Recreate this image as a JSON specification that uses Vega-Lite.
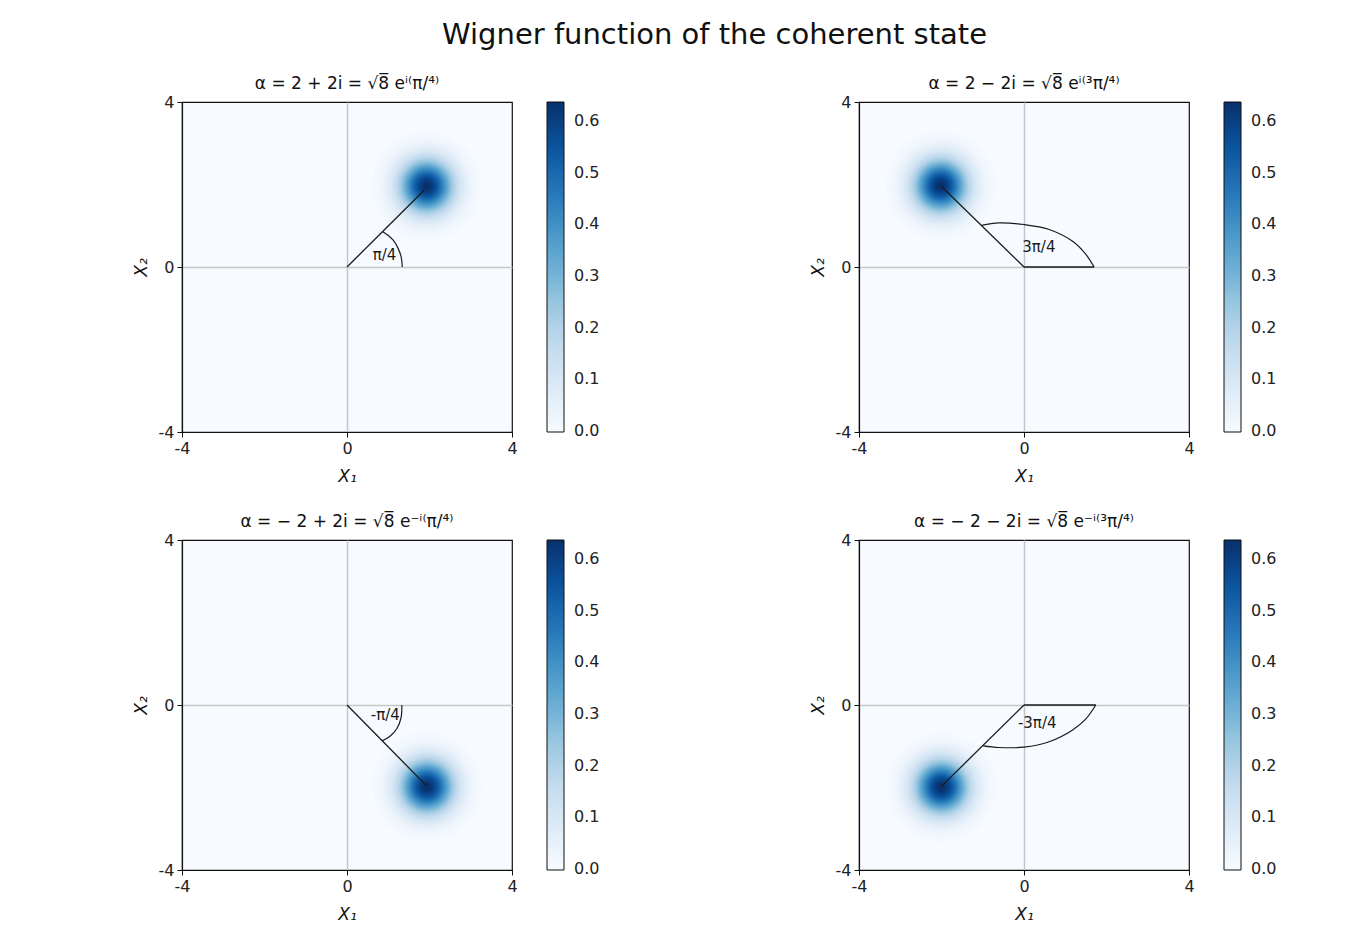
{
  "$schema": "https://vega.github.io/schema/vega-lite/v6.json",
  "background": "white",
  "padding": {"left": 131, "top": 21, "right": 5, "bottom": 5},
  "title": {"text": "Wigner function of the coherent state", "fontSize": 29, "fontWeight": "normal", "anchor": "middle", "offset": 24, "dx": 10, "color": "#111"},
  "datasets": {
    "blobs": [
      {"p":"A","x":1.93,"y":1.96,"r":1.5,"w":0.0082},{"p":"A","x":1.93,"y":1.96,"r":1.45,"w":0.011},{"p":"A","x":1.93,"y":1.96,"r":1.4,"w":0.0145},{"p":"A","x":1.93,"y":1.96,"r":1.35,"w":0.019},{"p":"A","x":1.93,"y":1.96,"r":1.3,"w":0.0247},{"p":"A","x":1.93,"y":1.96,"r":1.25,"w":0.0317},{"p":"A","x":1.93,"y":1.96,"r":1.2,"w":0.0403},{"p":"A","x":1.93,"y":1.96,"r":1.15,"w":0.0507},{"p":"A","x":1.93,"y":1.96,"r":1.1,"w":0.0632},{"p":"A","x":1.93,"y":1.96,"r":1.05,"w":0.0779},{"p":"A","x":1.93,"y":1.96,"r":1.0,"w":0.0952},{"p":"A","x":1.93,"y":1.96,"r":0.95,"w":0.1151},{"p":"A","x":1.93,"y":1.96,"r":0.9,"w":0.1378},{"p":"A","x":1.93,"y":1.96,"r":0.85,"w":0.1633},{"p":"A","x":1.93,"y":1.96,"r":0.8,"w":0.1917},{"p":"A","x":1.93,"y":1.96,"r":0.75,"w":0.2227},{"p":"A","x":1.93,"y":1.96,"r":0.7,"w":0.2561},{"p":"A","x":1.93,"y":1.96,"r":0.65,"w":0.2917},{"p":"A","x":1.93,"y":1.96,"r":0.6,"w":0.3289},{"p":"A","x":1.93,"y":1.96,"r":0.55,"w":0.3672},{"p":"A","x":1.93,"y":1.96,"r":0.5,"w":0.4058},{"p":"A","x":1.93,"y":1.96,"r":0.45,"w":0.444},{"p":"A","x":1.93,"y":1.96,"r":0.4,"w":0.4809},{"p":"A","x":1.93,"y":1.96,"r":0.35,"w":0.5158},{"p":"A","x":1.93,"y":1.96,"r":0.3,"w":0.5477},{"p":"A","x":1.93,"y":1.96,"r":0.25,"w":0.5758},{"p":"A","x":1.93,"y":1.96,"r":0.2,"w":0.5993},{"p":"A","x":1.93,"y":1.96,"r":0.15,"w":0.6174},{"p":"A","x":1.93,"y":1.96,"r":0.1,"w":0.6301},{"p":"A","x":1.93,"y":1.96,"r":0.05,"w":0.6362},
      {"p":"B","x":-2.02,"y":1.97,"r":1.5,"w":0.0082},{"p":"B","x":-2.02,"y":1.97,"r":1.45,"w":0.011},{"p":"B","x":-2.02,"y":1.97,"r":1.4,"w":0.0145},{"p":"B","x":-2.02,"y":1.97,"r":1.35,"w":0.019},{"p":"B","x":-2.02,"y":1.97,"r":1.3,"w":0.0247},{"p":"B","x":-2.02,"y":1.97,"r":1.25,"w":0.0317},{"p":"B","x":-2.02,"y":1.97,"r":1.2,"w":0.0403},{"p":"B","x":-2.02,"y":1.97,"r":1.15,"w":0.0507},{"p":"B","x":-2.02,"y":1.97,"r":1.1,"w":0.0632},{"p":"B","x":-2.02,"y":1.97,"r":1.05,"w":0.0779},{"p":"B","x":-2.02,"y":1.97,"r":1.0,"w":0.0952},{"p":"B","x":-2.02,"y":1.97,"r":0.95,"w":0.1151},{"p":"B","x":-2.02,"y":1.97,"r":0.9,"w":0.1378},{"p":"B","x":-2.02,"y":1.97,"r":0.85,"w":0.1633},{"p":"B","x":-2.02,"y":1.97,"r":0.8,"w":0.1917},{"p":"B","x":-2.02,"y":1.97,"r":0.75,"w":0.2227},{"p":"B","x":-2.02,"y":1.97,"r":0.7,"w":0.2561},{"p":"B","x":-2.02,"y":1.97,"r":0.65,"w":0.2917},{"p":"B","x":-2.02,"y":1.97,"r":0.6,"w":0.3289},{"p":"B","x":-2.02,"y":1.97,"r":0.55,"w":0.3672},{"p":"B","x":-2.02,"y":1.97,"r":0.5,"w":0.4058},{"p":"B","x":-2.02,"y":1.97,"r":0.45,"w":0.444},{"p":"B","x":-2.02,"y":1.97,"r":0.4,"w":0.4809},{"p":"B","x":-2.02,"y":1.97,"r":0.35,"w":0.5158},{"p":"B","x":-2.02,"y":1.97,"r":0.3,"w":0.5477},{"p":"B","x":-2.02,"y":1.97,"r":0.25,"w":0.5758},{"p":"B","x":-2.02,"y":1.97,"r":0.2,"w":0.5993},{"p":"B","x":-2.02,"y":1.97,"r":0.15,"w":0.6174},{"p":"B","x":-2.02,"y":1.97,"r":0.1,"w":0.6301},{"p":"B","x":-2.02,"y":1.97,"r":0.05,"w":0.6362},
      {"p":"C","x":1.94,"y":-1.98,"r":1.5,"w":0.0082},{"p":"C","x":1.94,"y":-1.98,"r":1.45,"w":0.011},{"p":"C","x":1.94,"y":-1.98,"r":1.4,"w":0.0145},{"p":"C","x":1.94,"y":-1.98,"r":1.35,"w":0.019},{"p":"C","x":1.94,"y":-1.98,"r":1.3,"w":0.0247},{"p":"C","x":1.94,"y":-1.98,"r":1.25,"w":0.0317},{"p":"C","x":1.94,"y":-1.98,"r":1.2,"w":0.0403},{"p":"C","x":1.94,"y":-1.98,"r":1.15,"w":0.0507},{"p":"C","x":1.94,"y":-1.98,"r":1.1,"w":0.0632},{"p":"C","x":1.94,"y":-1.98,"r":1.05,"w":0.0779},{"p":"C","x":1.94,"y":-1.98,"r":1.0,"w":0.0952},{"p":"C","x":1.94,"y":-1.98,"r":0.95,"w":0.1151},{"p":"C","x":1.94,"y":-1.98,"r":0.9,"w":0.1378},{"p":"C","x":1.94,"y":-1.98,"r":0.85,"w":0.1633},{"p":"C","x":1.94,"y":-1.98,"r":0.8,"w":0.1917},{"p":"C","x":1.94,"y":-1.98,"r":0.75,"w":0.2227},{"p":"C","x":1.94,"y":-1.98,"r":0.7,"w":0.2561},{"p":"C","x":1.94,"y":-1.98,"r":0.65,"w":0.2917},{"p":"C","x":1.94,"y":-1.98,"r":0.6,"w":0.3289},{"p":"C","x":1.94,"y":-1.98,"r":0.55,"w":0.3672},{"p":"C","x":1.94,"y":-1.98,"r":0.5,"w":0.4058},{"p":"C","x":1.94,"y":-1.98,"r":0.45,"w":0.444},{"p":"C","x":1.94,"y":-1.98,"r":0.4,"w":0.4809},{"p":"C","x":1.94,"y":-1.98,"r":0.35,"w":0.5158},{"p":"C","x":1.94,"y":-1.98,"r":0.3,"w":0.5477},{"p":"C","x":1.94,"y":-1.98,"r":0.25,"w":0.5758},{"p":"C","x":1.94,"y":-1.98,"r":0.2,"w":0.5993},{"p":"C","x":1.94,"y":-1.98,"r":0.15,"w":0.6174},{"p":"C","x":1.94,"y":-1.98,"r":0.1,"w":0.6301},{"p":"C","x":1.94,"y":-1.98,"r":0.05,"w":0.6362},
      {"p":"D","x":-2.0,"y":-1.99,"r":1.5,"w":0.0082},{"p":"D","x":-2.0,"y":-1.99,"r":1.45,"w":0.011},{"p":"D","x":-2.0,"y":-1.99,"r":1.4,"w":0.0145},{"p":"D","x":-2.0,"y":-1.99,"r":1.35,"w":0.019},{"p":"D","x":-2.0,"y":-1.99,"r":1.3,"w":0.0247},{"p":"D","x":-2.0,"y":-1.99,"r":1.25,"w":0.0317},{"p":"D","x":-2.0,"y":-1.99,"r":1.2,"w":0.0403},{"p":"D","x":-2.0,"y":-1.99,"r":1.15,"w":0.0507},{"p":"D","x":-2.0,"y":-1.99,"r":1.1,"w":0.0632},{"p":"D","x":-2.0,"y":-1.99,"r":1.05,"w":0.0779},{"p":"D","x":-2.0,"y":-1.99,"r":1.0,"w":0.0952},{"p":"D","x":-2.0,"y":-1.99,"r":0.95,"w":0.1151},{"p":"D","x":-2.0,"y":-1.99,"r":0.9,"w":0.1378},{"p":"D","x":-2.0,"y":-1.99,"r":0.85,"w":0.1633},{"p":"D","x":-2.0,"y":-1.99,"r":0.8,"w":0.1917},{"p":"D","x":-2.0,"y":-1.99,"r":0.75,"w":0.2227},{"p":"D","x":-2.0,"y":-1.99,"r":0.7,"w":0.2561},{"p":"D","x":-2.0,"y":-1.99,"r":0.65,"w":0.2917},{"p":"D","x":-2.0,"y":-1.99,"r":0.6,"w":0.3289},{"p":"D","x":-2.0,"y":-1.99,"r":0.55,"w":0.3672},{"p":"D","x":-2.0,"y":-1.99,"r":0.5,"w":0.4058},{"p":"D","x":-2.0,"y":-1.99,"r":0.45,"w":0.444},{"p":"D","x":-2.0,"y":-1.99,"r":0.4,"w":0.4809},{"p":"D","x":-2.0,"y":-1.99,"r":0.35,"w":0.5158},{"p":"D","x":-2.0,"y":-1.99,"r":0.3,"w":0.5477},{"p":"D","x":-2.0,"y":-1.99,"r":0.25,"w":0.5758},{"p":"D","x":-2.0,"y":-1.99,"r":0.2,"w":0.5993},{"p":"D","x":-2.0,"y":-1.99,"r":0.15,"w":0.6174},{"p":"D","x":-2.0,"y":-1.99,"r":0.1,"w":0.6301},{"p":"D","x":-2.0,"y":-1.99,"r":0.05,"w":0.6362}
    ],
    "segs": [
      {"p":"A","x":0,"y":0,"x2":1.87,"y2":1.86},
      {"p":"B","x":0,"y":0,"x2":-2.0,"y2":1.95},
      {"p":"B","x":0,"y":0,"x2":1.7,"y2":0},
      {"p":"C","x":0,"y":0,"x2":1.93,"y2":-1.96},
      {"p":"D","x":0,"y":0,"x2":-1.99,"y2":-1.96},
      {"p":"D","x":0,"y":0,"x2":1.74,"y2":0}
    ],
    "arcs": [
      {"p":"A","k":1,"x":1.34,"y":0},{"p":"A","k":2,"x":1.31,"y":0.26},{"p":"A","k":3,"x":1.23,"y":0.47},{"p":"A","k":4,"x":1.12,"y":0.65},{"p":"A","k":5,"x":0.99,"y":0.77},{"p":"A","k":6,"x":0.86,"y":0.86},
      {"p":"B","k":1,"x":-1.03,"y":1.01},{"p":"B","k":2,"x":-0.61,"y":1.07},{"p":"B","k":3,"x":0,"y":1.03},{"p":"B","k":4,"x":0.61,"y":0.91},{"p":"B","k":5,"x":1.17,"y":0.63},{"p":"B","k":6,"x":1.49,"y":0.32},{"p":"B","k":7,"x":1.7,"y":0},
      {"p":"C","k":1,"x":1.33,"y":0},{"p":"C","k":2,"x":1.31,"y":-0.31},{"p":"C","k":3,"x":1.21,"y":-0.57},{"p":"C","k":4,"x":1.05,"y":-0.75},{"p":"C","k":5,"x":0.85,"y":-0.87},
      {"p":"D","k":1,"x":1.74,"y":0},{"p":"D","k":2,"x":1.49,"y":-0.35},{"p":"D","k":3,"x":1.17,"y":-0.61},{"p":"D","k":4,"x":0.61,"y":-0.89},{"p":"D","k":5,"x":0,"y":-1.02},{"p":"D","k":6,"x":-0.61,"y":-1.03},{"p":"D","k":7,"x":-0.99,"y":-0.99}
    ],
    "labels": [
      {"p":"A","x":0.91,"y":0.3,"t":"π/4"},
      {"p":"B","x":0.36,"y":0.48,"t":"3π/4"},
      {"p":"C","x":0.93,"y":-0.24,"t":"-π/4"},
      {"p":"D","x":0.32,"y":-0.43,"t":"-3π/4"}
    ]
  },
  "concat": [
    {
      "width": 330, "height": 330,
      "title": {"text": "α = 2 + 2i = √8̅ eⁱ⁽π/⁴⁾"},
      "layer": [
        {"data": {"name": "blobs"}, "transform": [{"filter": "datum.p === 'A'"}],
         "mark": {"type": "point", "shape": "circle", "filled": true, "opacity": 1, "strokeWidth": 0, "clip": true},
         "encoding": {
           "x": {"field": "x", "type": "quantitative", "scale": {"domain": [-4, 4], "nice": false, "zero": false}, "axis": {"values": [-4, 0, 4], "labelExpr": "'' + datum.value", "title": "X₁"}},
           "y": {"field": "y", "type": "quantitative", "scale": {"domain": [-4, 4], "nice": false, "zero": false}, "axis": {"values": [-4, 0, 4], "labelExpr": "'' + datum.value", "title": "X₂"}},
           "size": {"field": "r", "type": "quantitative", "scale": {"type": "pow", "exponent": 2, "domain": [0, 1.5], "range": [0, 12028]}, "legend": null},
           "color": {"field": "w", "type": "quantitative", "scale": {"domain": [-0.002, 0.637], "nice": false, "zero": false, "range": ["#f7fbff", "#deebf7", "#c6dbef", "#9ecae1", "#6baed6", "#4292c6", "#2171b5", "#08519c", "#08306b"]}, "legend": {"title": null, "values": [0, 0.1, 0.2, 0.3, 0.4, 0.5, 0.6], "format": ".1f", "labelOffset": 10, "encode": {"labels": {"update": {"baseline": {"value": "middle"}}}}}},
           "order": {"field": "r", "sort": "descending"}
         }},
        {"data": {"name": "segs"}, "transform": [{"filter": "datum.p === 'A'"}],
         "mark": {"type": "rule", "color": "#1a1a1a", "strokeWidth": 1.3},
         "encoding": {"x": {"field": "x", "type": "quantitative", "title": "X₁"}, "y": {"field": "y", "type": "quantitative", "title": "X₂"}, "x2": {"field": "x2"}, "y2": {"field": "y2"}}},
        {"data": {"name": "arcs"}, "transform": [{"filter": "datum.p === 'A'"}],
         "mark": {"type": "line", "color": "#1a1a1a", "strokeWidth": 1.2, "interpolate": "catmull-rom"},
         "encoding": {"x": {"field": "x", "type": "quantitative", "title": "X₁"}, "y": {"field": "y", "type": "quantitative", "title": "X₂"}, "order": {"field": "k"}}},
        {"data": {"name": "labels"}, "transform": [{"filter": "datum.p === 'A'"}],
         "mark": {"type": "text", "fontSize": 15, "color": "#1a1a1a"},
         "encoding": {"x": {"field": "x", "type": "quantitative", "title": "X₁"}, "y": {"field": "y", "type": "quantitative", "title": "X₂"}, "text": {"field": "t"}}}
      ]
    },
    {
      "width": 330, "height": 330,
      "title": {"text": "α = 2 − 2i = √8̅ eⁱ⁽³π/⁴⁾"},
      "layer": [
        {"data": {"name": "blobs"}, "transform": [{"filter": "datum.p === 'B'"}],
         "mark": {"type": "point", "shape": "circle", "filled": true, "opacity": 1, "strokeWidth": 0, "clip": true},
         "encoding": {
           "x": {"field": "x", "type": "quantitative", "scale": {"domain": [-4, 4], "nice": false, "zero": false}, "axis": {"values": [-4, 0, 4], "labelExpr": "'' + datum.value", "title": "X₁"}},
           "y": {"field": "y", "type": "quantitative", "scale": {"domain": [-4, 4], "nice": false, "zero": false}, "axis": {"values": [-4, 0, 4], "labelExpr": "'' + datum.value", "title": "X₂"}},
           "size": {"field": "r", "type": "quantitative", "scale": {"type": "pow", "exponent": 2, "domain": [0, 1.5], "range": [0, 12028]}, "legend": null},
           "color": {"field": "w", "type": "quantitative", "scale": {"domain": [-0.002, 0.637], "nice": false, "zero": false, "range": ["#f7fbff", "#deebf7", "#c6dbef", "#9ecae1", "#6baed6", "#4292c6", "#2171b5", "#08519c", "#08306b"]}, "legend": {"title": null, "values": [0, 0.1, 0.2, 0.3, 0.4, 0.5, 0.6], "format": ".1f", "labelOffset": 10, "encode": {"labels": {"update": {"baseline": {"value": "middle"}}}}}},
           "order": {"field": "r", "sort": "descending"}
         }},
        {"data": {"name": "segs"}, "transform": [{"filter": "datum.p === 'B'"}],
         "mark": {"type": "rule", "color": "#1a1a1a", "strokeWidth": 1.3},
         "encoding": {"x": {"field": "x", "type": "quantitative", "title": "X₁"}, "y": {"field": "y", "type": "quantitative", "title": "X₂"}, "x2": {"field": "x2"}, "y2": {"field": "y2"}}},
        {"data": {"name": "arcs"}, "transform": [{"filter": "datum.p === 'B'"}],
         "mark": {"type": "line", "color": "#1a1a1a", "strokeWidth": 1.2, "interpolate": "catmull-rom"},
         "encoding": {"x": {"field": "x", "type": "quantitative", "title": "X₁"}, "y": {"field": "y", "type": "quantitative", "title": "X₂"}, "order": {"field": "k"}}},
        {"data": {"name": "labels"}, "transform": [{"filter": "datum.p === 'B'"}],
         "mark": {"type": "text", "fontSize": 15, "color": "#1a1a1a"},
         "encoding": {"x": {"field": "x", "type": "quantitative", "title": "X₁"}, "y": {"field": "y", "type": "quantitative", "title": "X₂"}, "text": {"field": "t"}}}
      ]
    },
    {
      "width": 330, "height": 330,
      "title": {"text": "α =  − 2 + 2i = √8̅ e⁻ⁱ⁽π/⁴⁾"},
      "layer": [
        {"data": {"name": "blobs"}, "transform": [{"filter": "datum.p === 'C'"}],
         "mark": {"type": "point", "shape": "circle", "filled": true, "opacity": 1, "strokeWidth": 0, "clip": true},
         "encoding": {
           "x": {"field": "x", "type": "quantitative", "scale": {"domain": [-4, 4], "nice": false, "zero": false}, "axis": {"values": [-4, 0, 4], "labelExpr": "'' + datum.value", "title": "X₁"}},
           "y": {"field": "y", "type": "quantitative", "scale": {"domain": [-4, 4], "nice": false, "zero": false}, "axis": {"values": [-4, 0, 4], "labelExpr": "'' + datum.value", "title": "X₂"}},
           "size": {"field": "r", "type": "quantitative", "scale": {"type": "pow", "exponent": 2, "domain": [0, 1.5], "range": [0, 12028]}, "legend": null},
           "color": {"field": "w", "type": "quantitative", "scale": {"domain": [-0.002, 0.637], "nice": false, "zero": false, "range": ["#f7fbff", "#deebf7", "#c6dbef", "#9ecae1", "#6baed6", "#4292c6", "#2171b5", "#08519c", "#08306b"]}, "legend": {"title": null, "values": [0, 0.1, 0.2, 0.3, 0.4, 0.5, 0.6], "format": ".1f", "labelOffset": 10, "encode": {"labels": {"update": {"baseline": {"value": "middle"}}}}}},
           "order": {"field": "r", "sort": "descending"}
         }},
        {"data": {"name": "segs"}, "transform": [{"filter": "datum.p === 'C'"}],
         "mark": {"type": "rule", "color": "#1a1a1a", "strokeWidth": 1.3},
         "encoding": {"x": {"field": "x", "type": "quantitative", "title": "X₁"}, "y": {"field": "y", "type": "quantitative", "title": "X₂"}, "x2": {"field": "x2"}, "y2": {"field": "y2"}}},
        {"data": {"name": "arcs"}, "transform": [{"filter": "datum.p === 'C'"}],
         "mark": {"type": "line", "color": "#1a1a1a", "strokeWidth": 1.2, "interpolate": "catmull-rom"},
         "encoding": {"x": {"field": "x", "type": "quantitative", "title": "X₁"}, "y": {"field": "y", "type": "quantitative", "title": "X₂"}, "order": {"field": "k"}}},
        {"data": {"name": "labels"}, "transform": [{"filter": "datum.p === 'C'"}],
         "mark": {"type": "text", "fontSize": 15, "color": "#1a1a1a"},
         "encoding": {"x": {"field": "x", "type": "quantitative", "title": "X₁"}, "y": {"field": "y", "type": "quantitative", "title": "X₂"}, "text": {"field": "t"}}}
      ]
    },
    {
      "width": 330, "height": 330,
      "title": {"text": "α =  − 2 − 2i = √8̅ e⁻ⁱ⁽³π/⁴⁾"},
      "layer": [
        {"data": {"name": "blobs"}, "transform": [{"filter": "datum.p === 'D'"}],
         "mark": {"type": "point", "shape": "circle", "filled": true, "opacity": 1, "strokeWidth": 0, "clip": true},
         "encoding": {
           "x": {"field": "x", "type": "quantitative", "scale": {"domain": [-4, 4], "nice": false, "zero": false}, "axis": {"values": [-4, 0, 4], "labelExpr": "'' + datum.value", "title": "X₁"}},
           "y": {"field": "y", "type": "quantitative", "scale": {"domain": [-4, 4], "nice": false, "zero": false}, "axis": {"values": [-4, 0, 4], "labelExpr": "'' + datum.value", "title": "X₂"}},
           "size": {"field": "r", "type": "quantitative", "scale": {"type": "pow", "exponent": 2, "domain": [0, 1.5], "range": [0, 12028]}, "legend": null},
           "color": {"field": "w", "type": "quantitative", "scale": {"domain": [-0.002, 0.637], "nice": false, "zero": false, "range": ["#f7fbff", "#deebf7", "#c6dbef", "#9ecae1", "#6baed6", "#4292c6", "#2171b5", "#08519c", "#08306b"]}, "legend": {"title": null, "values": [0, 0.1, 0.2, 0.3, 0.4, 0.5, 0.6], "format": ".1f", "labelOffset": 10, "encode": {"labels": {"update": {"baseline": {"value": "middle"}}}}}},
           "order": {"field": "r", "sort": "descending"}
         }},
        {"data": {"name": "segs"}, "transform": [{"filter": "datum.p === 'D'"}],
         "mark": {"type": "rule", "color": "#1a1a1a", "strokeWidth": 1.3},
         "encoding": {"x": {"field": "x", "type": "quantitative", "title": "X₁"}, "y": {"field": "y", "type": "quantitative", "title": "X₂"}, "x2": {"field": "x2"}, "y2": {"field": "y2"}}},
        {"data": {"name": "arcs"}, "transform": [{"filter": "datum.p === 'D'"}],
         "mark": {"type": "line", "color": "#1a1a1a", "strokeWidth": 1.2, "interpolate": "catmull-rom"},
         "encoding": {"x": {"field": "x", "type": "quantitative", "title": "X₁"}, "y": {"field": "y", "type": "quantitative", "title": "X₂"}, "order": {"field": "k"}}},
        {"data": {"name": "labels"}, "transform": [{"filter": "datum.p === 'D'"}],
         "mark": {"type": "text", "fontSize": 15, "color": "#1a1a1a"},
         "encoding": {"x": {"field": "x", "type": "quantitative", "title": "X₁"}, "y": {"field": "y", "type": "quantitative", "title": "X₂"}, "text": {"field": "t"}}}
      ]
    }
  ],
  "columns": 2,
  "spacing": {"row": 108, "column": 347},
  "bounds": "flush",
  "resolve": {"scale": {"color": "independent", "x": "independent", "y": "independent", "size": "independent"}, "legend": {"color": "independent"}},
  "config": {
    "font": "DejaVu Sans",
    "view": {"stroke": "#111", "strokeWidth": 1.2, "fill": "#f7fbff"},
    "title": {"fontSize": 17, "fontWeight": "normal", "offset": 1, "color": "#111"},
    "axis": {"grid": true, "gridColor": {"condition": {"test": "datum.value === 0", "value": "#c6c6c6"}, "value": "transparent"}, "gridWidth": 1.5, "domainColor": "#111", "domainWidth": 1.2, "tickColor": "#111", "tickSize": 5, "tickWidth": 1, "labelFontSize": 16, "labelColor": "#222", "labelPadding": 3, "titleFontSize": 17, "titleFontWeight": "normal", "titleFontStyle": "italic", "titleColor": "#111", "labelFlush": false},
    "axisX": {"titlePadding": 12},
    "axisY": {"titlePadding": 8},
    "legend": {"gradientLength": 330, "gradientThickness": 17, "gradientStrokeColor": "#111", "gradientStrokeWidth": 1, "labelFontSize": 16, "labelColor": "#222", "labelOffset": 10, "offset": 35}
  }
}
